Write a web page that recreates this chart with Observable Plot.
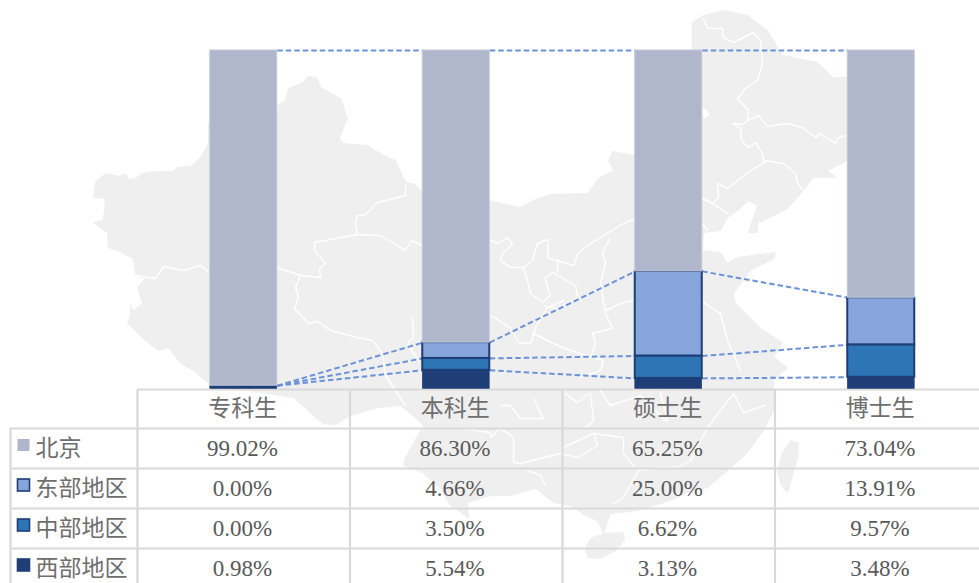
<!DOCTYPE html>
<html lang="zh">
<head>
<meta charset="utf-8">
<title>生源地区分布</title>
<script src="https://cdn.jsdelivr.net/npm/d3@7"></script>
<script src="https://cdn.jsdelivr.net/npm/@observablehq/plot@0.6"></script>
<style>
html,body{margin:0;padding:0;background:#fff;overflow:hidden}
svg{display:block}
</style>
</head>
<body>
<div id="chart"></div>
<script>
// ---- values ----
const categories = ["专科生", "本科生", "硕士生", "博士生"];
const regions = ["北京", "东部地区", "中部地区", "西部地区"];
const beijing = [99.02, 86.30, 65.25, 73.04];
const eastern = [0.00, 4.66, 25.00, 13.91];
const central = [0.00, 3.50, 6.62, 9.57];
const western = [0.98, 5.54, 3.13, 3.48];

// ---- background map: traced silhouette, in image pixels ----
const mapMainland = [[93,197],[95,182],[105,173],[118,176],[125,173],[128,179],[135,178],[142,173],[157,171],[172,171],[177,167],[190,166],[200,157],[208,143],[208,122],[277,105],[285,100],[288,88],[303,82],[307,76],[316,77],[320,87],[340,98],[347,118],[339,137],[342,143],[367,145],[383,155],[395,160],[405,182],[415,184],[422,192],[489,200],[500,203],[520,207],[533,200],[550,194],[587,193],[598,178],[613,170],[608,160],[612,151],[633,155],[692,50],[692,22],[703,15],[723,10],[747,15],[767,30],[782,55],[817,62],[832,77],[847,77],[890,85],[905,130],[880,150],[847,160],[827,170],[835,177],[813,177],[803,190],[787,208],[757,223],[757,232],[748,232],[757,205],[748,200],[737,210],[727,217],[720,230],[703,232],[702,250],[720,252],[727,263],[737,257],[775,252],[773,258],[750,270],[733,293],[735,303],[760,328],[782,342],[773,357],[787,367],[773,380],[773,410],[763,430],[747,452],[727,470],[707,487],[687,492],[670,500],[637,510],[610,513],[603,533],[597,520],[585,515],[570,505],[553,502],[535,488],[510,495],[490,495],[467,502],[468,517],[450,505],[440,488],[422,472],[403,465],[405,457],[423,425],[410,413],[400,405],[377,407],[350,415],[335,424],[322,423],[310,412],[293,397],[235,388],[207,382],[193,370],[180,363],[168,347],[158,350],[147,342],[127,323],[130,315],[130,305],[133,310],[142,303],[137,287],[145,278],[135,275],[133,258],[117,250],[108,247],[107,232],[93,222],[103,220],[105,198]];
const mapHainan = [[585,548],[590,538],[603,533],[623,532],[624,540],[615,550],[600,558],[588,557]];
const mapTaiwan = [[777,470],[782,452],[790,440],[798,442],[797,458],[793,472],[787,492],[781,485]];
const mapLake = [[702,107],[707,110],[709,115],[703,118]];
const mapBorders = [
  [[135,275],[155,278],[163,266],[183,270],[200,265],[210,273],[277,267],[300,275],[320,277],[319,268],[325,263],[314,250],[314,242],[357,234],[380,235],[405,250],[411,240],[422,245]],
  [[357,234],[355,223],[357,215],[365,214],[377,202],[405,195],[405,185]],
  [[300,275],[295,287],[298,297],[294,308],[308,323],[317,321],[330,330],[357,337],[372,340],[382,353],[385,375],[395,390],[405,405]],
  [[412,318],[413,337],[407,343],[418,360]],
  [[490,240],[497,243],[507,237],[512,243],[502,253],[500,260],[510,267],[523,267],[527,280],[530,293],[542,302],[550,295],[547,287],[545,277],[552,272],[575,285],[577,297],[557,308],[543,305]],
  [[523,267],[532,260],[537,243],[547,239],[548,258],[557,260],[557,272]],
  [[557,260],[573,265],[578,252],[592,242],[603,235],[623,223],[633,219]],
  [[610,237],[602,252],[605,263],[600,283],[605,313],[612,328],[592,333],[595,343],[590,357]],
  [[490,315],[510,327],[518,342],[530,343],[535,327],[547,307],[563,300]],
  [[533,333],[553,343],[570,350],[593,357],[603,360],[600,370],[580,377]],
  [[605,310],[623,302],[633,300]],
  [[703,18],[707,28],[722,28],[723,37],[733,42],[753,32],[760,40],[762,63],[757,80],[745,88],[737,98],[748,110],[747,120],[742,124],[732,123],[740,128],[741,140],[748,147],[755,142],[762,153],[763,160],[783,163],[795,173],[797,183],[803,190]],
  [[747,120],[758,115],[767,126],[787,123],[802,127],[815,137],[820,133],[835,143],[838,137],[847,135]],
  [[768,160],[750,170],[727,188],[717,183],[718,197],[712,203],[727,213]],
  [[702,198],[712,203]],
  [[702,223],[707,230]],
  [[703,302],[720,313],[727,340],[740,370]],
  [[733,393],[743,412],[765,405]],
  [[733,393],[707,427],[690,460],[677,467],[660,467],[638,470],[623,497],[613,503]],
  [[563,447],[593,433],[623,437],[623,453],[633,465]],
  [[590,393],[593,420],[585,427]],
  [[565,393],[577,402],[588,393]],
  [[667,420],[660,393],[665,375]],
  [[462,428],[490,432],[490,437],[500,428],[513,437],[513,462],[520,463],[560,453],[577,457],[597,445],[593,432]],
  [[527,470],[540,475],[545,485]],
  [[500,405],[510,405],[520,418],[543,418],[533,398]],
  [[600,390],[610,405],[640,395],[665,420]]
];

// ---- scale calibration and table layout (image pixels) ----
const X = px => (px - 243.25) / 212.5;   // category index from pixel
const Y = py => (388.5 - py) / 3.385;    // percent from pixel
const halfBar = 33.5 / 212.5;
const rowCenters = [448, 488, 528, 568];
const headerCenter = 408.5;
const rowLines = [428, 468, 508, 548];
const tableTop = 389;
const seriesBottomUp = [
  {name: "西部地区", values: western, fill: "#1F3D76", stroke: "#1F3D76", strokeWidth: 0.5},
  {name: "中部地区", values: central, fill: "#2E75B6", stroke: "#1F3E75", strokeWidth: 2},
  {name: "东部地区", values: eastern, fill: "#85A5DC", stroke: "#1F3E75", strokeWidth: 2},
  {name: "北京", values: beijing, fill: "#B0B6CC", stroke: "#C4C9DA", strokeWidth: 1}
];

// ---- derived tables ----
const segments = [];
seriesBottomUp.forEach(s => {
  categories.forEach((c, i) => {
    const base = d3.sum(seriesBottomUp.slice(0, seriesBottomUp.indexOf(s)), t => t.values[i]);
    segments.push({i, y1: base, y2: base + s.values[i], s});
  });
});
const links = [];
seriesBottomUp.forEach((s, k) => {
  for (let i = 0; i < categories.length - 1; i++) {
    const top = j => d3.sum(seriesBottomUp.slice(0, k + 1), t => t.values[j]);
    links.push({x1: i + halfBar, x2: i + 1 - halfBar, y1: top(i), y2: top(i + 1)});
  }
});
const rowsByRegion = [beijing, eastern, central, western];
const cells = rowsByRegion.flatMap((vals, r) =>
  vals.map((v, i) => ({i, r, label: v.toFixed(2) + "%"})));
const legend = regions.map((name, r) => ({name, r}));
const swatchStyle = [seriesBottomUp[3], seriesBottomUp[2], seriesBottomUp[1], seriesBottomUp[0]];

const toMap = pts => pts.map(([a, b]) => [X(a), Y(b)]);
const poly = rings => ({type: "MultiPolygon", coordinates: rings.map(r => [toMap(r.concat([r[0]]))])});
const land = poly([mapMainland, mapHainan, mapTaiwan]);
const lake = poly([mapLake]);
const borders = {type: "MultiLineString", coordinates: mapBorders.map(toMap)};

const serif = "'Liberation Serif','Times New Roman',serif";
const cjk = "'Noto Sans CJK SC','Noto Sans',sans-serif";
const vGrid = [-0.5, 0.5, 1.5, 2.5];
const grid = {stroke: "#D9D9D9", strokeWidth: 2.2};

const chart = Plot.plot({
  width: 979,
  height: 583,
  margin: 0,
  style: {background: "transparent", overflow: "hidden"},
  x: {axis: null, domain: [X(0), X(979)], range: [0, 979]},
  y: {axis: null, domain: [Y(583), Y(0)], range: [583, 0]},
  marks: [
    Plot.geo([land], {fill: "#EFEFEF", stroke: "#EFEFEF", strokeWidth: 1}),
    Plot.geo([lake], {fill: "#FFFFFF"}),
    Plot.geo([borders], {fill: "none", stroke: "#FFFFFF", strokeWidth: 1.4}),
    Plot.link(links, {x1: "x1", x2: "x2", y1: "y1", y2: "y2", stroke: "#6C93D8", strokeWidth: 2, strokeDasharray: "5.5 3"}),
    // table grid
    Plot.ruleY([tableTop], {y: p => Y(p), x1: X(137), x2: X(979), ...grid}),
    Plot.ruleY(rowLines, {y: p => Y(p), x1: X(10), x2: X(979), ...grid}),
    Plot.ruleX(vGrid, {x: d => d, y1: Y(tableTop), y2: Y(583), ...grid}),
    Plot.ruleX([10], {x: p => X(p), y1: Y(428), y2: Y(583), ...grid}),
    // stacked bars
    Plot.rect(segments, {
      x1: d => d.i - halfBar, x2: d => d.i + halfBar,
      y1: "y1", y2: d => d.y2,
      fill: d => d.s.fill, stroke: d => d.s.stroke, strokeWidth: d => d.s.strokeWidth,
      inset: 0
    }),
    // header labels
    Plot.text(categories, {x: (d, i) => i, y: () => Y(headerCenter), text: d => d, dx: -1, fontFamily: cjk, fontSize: 23, fill: "#6E6E6E", textAnchor: "middle", lineAnchor: "middle"}),
    // table values
    Plot.text(cells, {x: "i", y: d => Y(rowCenters[d.r]), text: "label", dx: -1.2, fontFamily: serif, fontSize: 23, fill: "#595959", textAnchor: "middle", lineAnchor: "middle"}),
    // legend swatches and region names
    Plot.rect(legend, {
      x1: () => X(17.5), x2: () => X(29.5),
      y1: d => Y(rowCenters[d.r] - 9), y2: d => Y(rowCenters[d.r] + 3),
      fill: d => swatchStyle[d.r].fill,
      stroke: d => d.r === 0 ? "none" : "#1F3E75", strokeWidth: 1.6
    }),
    Plot.text(legend, {x: () => X(35), y: d => Y(rowCenters[d.r]), text: "name", fontFamily: cjk, fontSize: 23, fill: "#6E6E6E", textAnchor: "start", lineAnchor: "middle"})
  ]
});
document.getElementById("chart").append(chart);
</script>
</body>
</html>
